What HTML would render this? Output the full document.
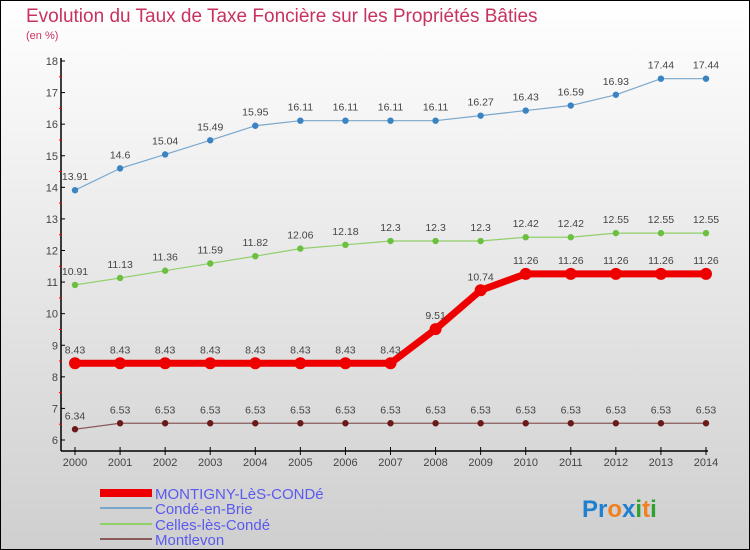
<!DOCTYPE html>
<html><head><meta charset="utf-8"><style>
body{margin:0;width:750px;height:550px;overflow:hidden;font-family:"Liberation Sans",sans-serif}
svg{display:block}
</style></head><body>
<svg width="750" height="550" id="c">
<defs><linearGradient id="bg" x1="0" y1="0" x2="0" y2="1"><stop offset="0" stop-color="#ffffff"/><stop offset="1" stop-color="#cfcfcf"/></linearGradient></defs>
<rect x="0.5" y="0.5" width="749" height="549" fill="url(#bg)" stroke="#000"/>
<text x="26" y="22" font-size="19" fill="#c8325f">Evolution du Taux de Taxe Foncière sur les Propriétés Bâties</text>
<text x="26" y="39" font-size="11" fill="#c8325f">(en %)</text>
<g id="axes"></g><g id="series"></g>
<g>
<rect x="100" y="489" width="52" height="8" fill="#e00"/>
<text x="155" y="499" font-size="15" fill="#5a5aee">MONTIGNY-LèS-CONDé</text>
<rect x="100" y="507" width="52" height="2" fill="#7aa7cc"/>
<text x="155" y="514" font-size="15" fill="#5a5aee">Condé-en-Brie</text>
<rect x="100" y="523" width="52" height="2" fill="#8fd06a"/>
<text x="155" y="530" font-size="15" fill="#5a5aee">Celles-lès-Condé</text>
<rect x="100" y="538" width="52" height="2" fill="#8a5a5a"/>
<text x="155" y="545" font-size="15" fill="#5a5aee">Montlevon</text>
</g>
<text x="582" y="517" font-size="24" font-weight="bold"><tspan fill="#1f7fd0">Pr</tspan><tspan fill="#f08020">o</tspan><tspan fill="#1f7fd0">x</tspan><tspan fill="#30a030">i</tspan><tspan fill="#f08020">t</tspan><tspan fill="#30a030">i</tspan></text>
</svg>
<script>
const years=[2000,2001,2002,2003,2004,2005,2006,2007,2008,2009,2010,2011,2012,2013,2014];
const yTicks=[6,7,8,9,10,11,12,13,14,15,16,17,18];
const montigny=[8.43,8.43,8.43,8.43,8.43,8.43,8.43,8.43,9.51,10.74,11.26,11.26,11.26,11.26,11.26];
const conde=[13.91,14.6,15.04,15.49,15.95,16.11,16.11,16.11,16.11,16.27,16.43,16.59,16.93,17.44,17.44];
const celles=[10.91,11.13,11.36,11.59,11.82,12.06,12.18,12.3,12.3,12.3,12.42,12.42,12.55,12.55,12.55];
const montlevon=[6.34,6.53,6.53,6.53,6.53,6.53,6.53,6.53,6.53,6.53,6.53,6.53,6.53,6.53,6.53];
const NS="http://www.w3.org/2000/svg";
const X=i=>75+i*(706-75)/(years.length-1);
const Y=v=>440-(v-6)*(440-61)/12;
function mk(t,a,p){const e=document.createElementNS(NS,t);for(const k in a)e.setAttribute(k,a[k]);p.appendChild(e);return e;}
const ax=document.getElementById('axes');
let l=mk('line',{x1:61,y1:58,x2:61,y2:451,stroke:'#000','stroke-width':1.5},ax);


l=mk('line',{x1:61,y1:451,x2:708,y2:451,stroke:'#000','stroke-width':1.5},ax);


yTicks.forEach(v=>{
 mk('line',{x1:61,y1:Y(v),x2:65,y2:Y(v),stroke:'#000'},ax);
 if(v<18)mk('line',{x1:59,y1:Y(v+0.5),x2:62,y2:Y(v+0.5),stroke:'#f00'},ax);
 const t=mk('text',{x:58,y:Y(v)+4,'font-size':11,fill:'#444','text-anchor':'end'},ax);t.textContent=v;
 
 
});
years.forEach((y,i)=>{
 mk('line',{x1:X(i),y1:447,x2:X(i),y2:455,stroke:'#000'},ax);
 const t=mk('text',{x:X(i),y:466,'font-size':11,fill:'#444','text-anchor':'middle'},ax);t.textContent=y;
 
 
});
const sg=document.getElementById('series');
function draw(d,col,dot,w,r,name){
 const g=mk('g',{},sg);
 
 
 mk('polyline',{points:d.map((v,i)=>X(i)+','+Y(v)).join(' '),fill:'none',stroke:col,'stroke-width':w},g);
 d.forEach((v,i)=>{
  const c=mk('circle',{cx:X(i),cy:Y(v),r:r,fill:dot},g);
  
  
  const t=mk('text',{x:X(i),y:Y(v)-10,'font-size':10.5,fill:'#444','text-anchor':'middle'},g);t.textContent=v;
 });
}
draw(conde,'#7aa7cc','#3a84c4',1.2,3.2,'series-conde');
draw(celles,'#8fd06a','#6cc040',1.2,3.2,'series-celles');
draw(montlevon,'#8a5a5a','#6a1a1a',1.2,3.2,'series-montlevon');
draw(montigny,'#ee0000','#ee0000',7,6,'series-montigny');
</script>
</body></html>
